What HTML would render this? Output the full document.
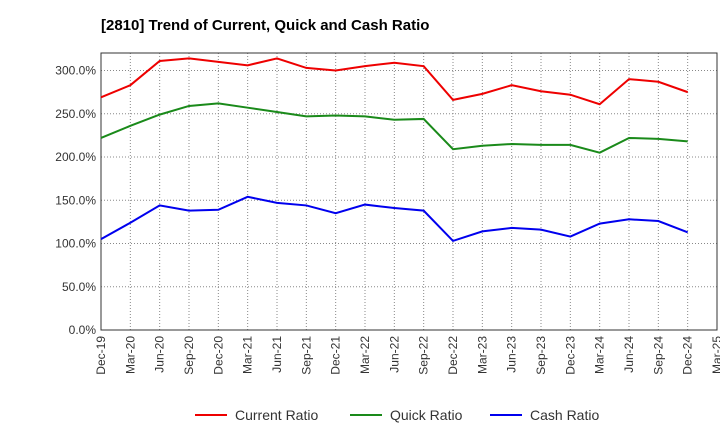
<!DOCTYPE html>
<html><head><meta charset="utf-8"><style>
body{margin:0;background:#fff;font-family:"Liberation Sans",sans-serif}
</style></head><body>
<svg id="c" width="720" height="440" xmlns="http://www.w3.org/2000/svg">
<text x="101" y="30" font-size="15" font-weight="bold" fill="#000">[2810]  Trend of Current, Quick and Cash Ratio</text>
</svg>
<script>
const categories=["Dec-19","Mar-20","Jun-20","Sep-20","Dec-20","Mar-21","Jun-21","Sep-21","Dec-21","Mar-22","Jun-22","Sep-22","Dec-22","Mar-23","Jun-23","Sep-23","Dec-23","Mar-24","Jun-24","Sep-24","Dec-24","Mar-25"];
const currentRatio=[269,283,311,314,310,306,314,303,300,305,309,305,266,273,283,276,272,261,290,287,275];
const quickRatio=[222,236,249,259,262,257,252,247,248,247,243,244,209,213,215,214,214,205,222,221,218];
const cashRatio=[105,124,144,138,139,154,147,144,135,145,141,138,103,114,118,116,108,123,128,126,113];
const yTicks=[0,50,100,150,200,250,300];
const ns="http://www.w3.org/2000/svg",svg=document.getElementById('c');
const L=101,R=717,T=53,B=330;
const x=i=>L+i*(R-L)/(categories.length-1);
const y=v=>B-v*(B-70.5)/300;
function mk(t,a){const e=document.createElementNS(ns,t);for(const k in a)e.setAttribute(k,a[k]);svg.appendChild(e);return e;}
yTicks.forEach(v=>{
 const g=mk('line',{x1:L,x2:R,y1:y(v),y2:y(v),stroke:'#888','stroke-dasharray':'1,2','stroke-width':1});
 
 
 const t=mk('text',{x:L-5,y:y(v)+4,'font-size':12,'text-anchor':'end',fill:'#333'});
 t.textContent=v.toFixed(1)+'%';
 
 
});
categories.forEach((c,i)=>{
 const g=mk('line',{x1:x(i),x2:x(i),y1:T,y2:B,stroke:'#888','stroke-dasharray':'1,2','stroke-width':1});
 
 
 const t=mk('text',{x:0,y:0,'font-size':12,'text-anchor':'end',fill:'#333',transform:`translate(${x(i)+4},${B+6}) rotate(-90)`});
 t.textContent=c;
 
 
});
const fr=mk('rect',{x:L,y:T,width:R-L,height:B-T,fill:'none',stroke:'#333'});


const series=[[currentRatio,'#e00','current-ratio-line','Current Ratio',195],[quickRatio,'#1a8a1a','quick-ratio-line','Quick Ratio',350],[cashRatio,'#00e','cash-ratio-line','Cash Ratio',490]];
series.forEach(([d,col,n,lab,lx])=>{
 const p=mk('polyline',{points:d.map((v,i)=>x(i)+','+y(v)).join(' '),fill:'none',stroke:col,'stroke-width':2});
 
 
 const l=mk('line',{x1:lx,x2:lx+32,y1:415,y2:415,stroke:col,'stroke-width':2});
 
 
 const t=mk('text',{x:lx+40,y:420,'font-size':14,fill:'#333'});
 t.textContent=lab;
 
 
});
</script>
</body></html>
